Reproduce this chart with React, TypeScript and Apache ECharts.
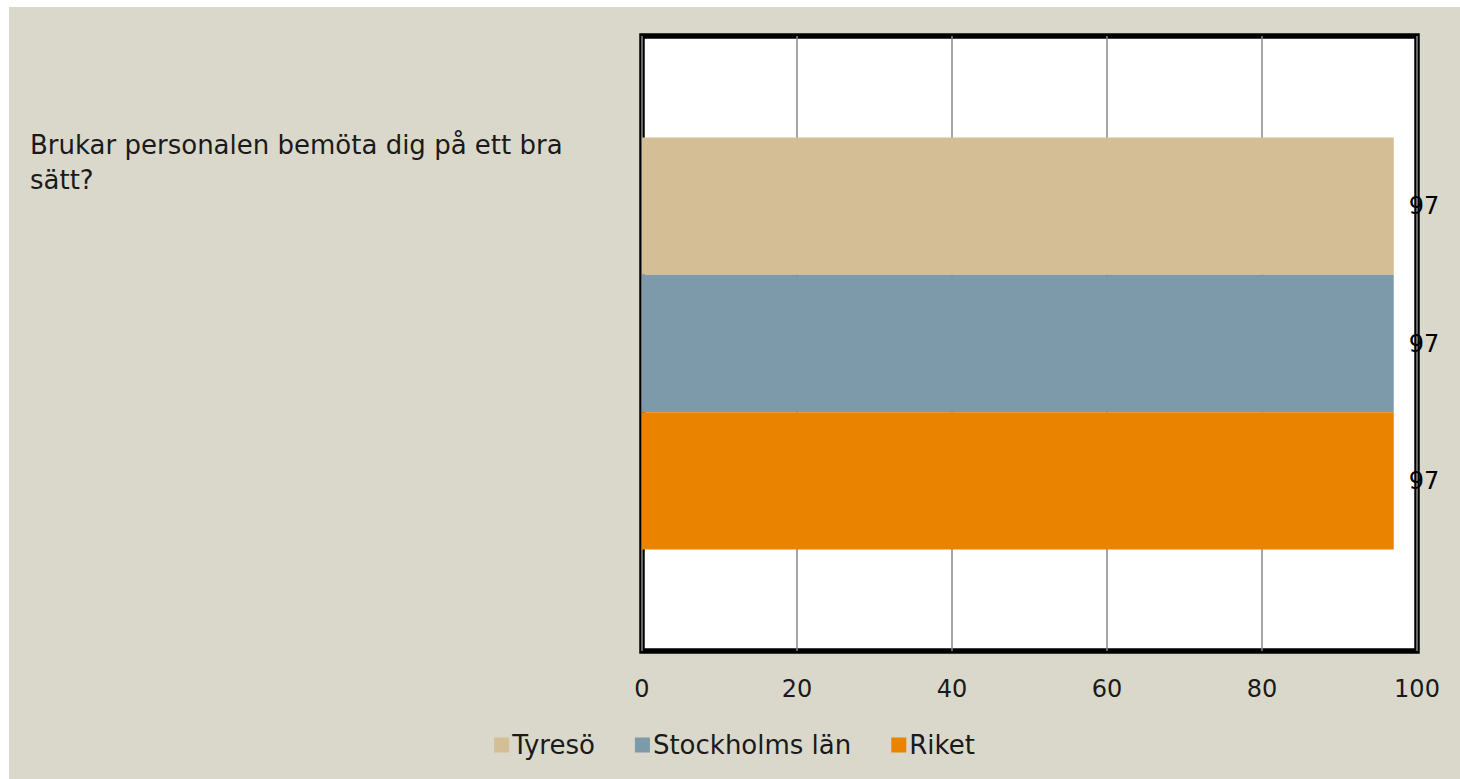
import React, { useEffect, useRef } from "react";
import * as echarts from "echarts";

const categories = ["Brukar personalen bemöta dig på ett bra sätt?"];
const seriesNames = ["Tyresö", "Stockholms län", "Riket"];
const tyresoValues = [97];
const stockholmValues = [97];
const riketValues = [97];
const seriesColors = ["#D3BE96", "#7D9AAA", "#E98300"];
const FONT = "'DejaVu Sans', sans-serif";

export default function App() {
  const ref = useRef<HTMLDivElement>(null);
  useEffect(() => {
    if (!ref.current) return;
    const chart = echarts.init(ref.current, undefined, { renderer: "svg" });
    const values = [tyresoValues, stockholmValues, riketValues];
    chart.setOption({
      animation: false,
      backgroundColor: "#DAD8CB",
      textStyle: { fontFamily: FONT },
      grid: {
        left: 633,
        right: 43,
        top: 29,
        bottom: 128,
        show: true,
        backgroundColor: "#FFFFFF",
        borderColor: "#000000",
        borderWidth: 5.5,
        containLabel: false,
      },
      graphic: [
        {
          type: "text",
          left: 21,
          top: 120,
          style: {
            text: categories[0],
            width: 570,
            overflow: "break",
            font: `26px ${FONT}`,
            lineHeight: 35,
            fill: "#1a1a1a",
          },
        },
      ],
      legend: {
        bottom: 16,
        left: "center",
        icon: "rect",
        itemWidth: 15,
        itemHeight: 15,
        itemGap: 40,
        data: seriesNames,
        textStyle: { fontFamily: FONT, fontSize: 26, color: "#1a1a1a", padding: [0, 0, 0, -2] },
      },
      xAxis: {
        type: "value",
        min: 0,
        max: 100,
        interval: 20,
        axisLine: { show: false },
        axisTick: { show: false },
        splitLine: { show: true, lineStyle: { color: "#888888", width: 1.5 } },
        axisLabel: { fontFamily: FONT, fontSize: 24, color: "#1a1a1a", margin: 26 },
      },
      yAxis: {
        type: "category",
        inverse: true,
        data: categories,
        axisLine: { show: false },
        axisTick: { show: false },
        axisLabel: { show: false },
      },
      series: seriesNames.map((name, i) => ({
        name,
        type: "bar",
        data: values[i],
        barGap: "0%",
        barCategoryGap: "33%",
        itemStyle: { color: seriesColors[i] },
        label: {
          show: true,
          position: "right",
          distance: 15,
          fontFamily: FONT,
          fontSize: 24,
          color: "#000000",
          padding: [4, 0, 0, 0],
        },
      })),
    });
    return () => chart.dispose();
  }, []);
  return (
    <div
      ref={ref}
      style={{ position: "absolute", left: 9, top: 7, width: 1451, height: 772 }}
    />
  );
}
